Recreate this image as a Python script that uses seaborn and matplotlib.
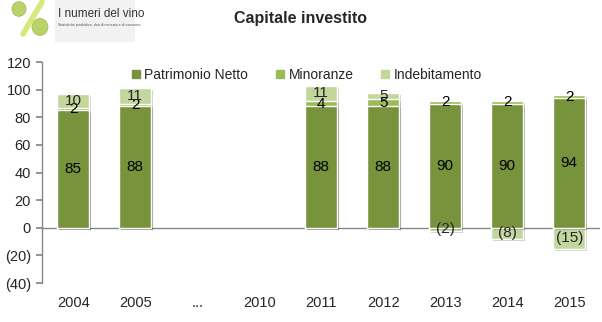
import numpy as np
import pandas as pd
import matplotlib
matplotlib.use("Agg")
import matplotlib.pyplot as plt
import matplotlib.patches as mpatches
import matplotlib.patheffects as pe
import seaborn as sns

years = ["2004", "2005", "...", "2010", "2011", "2012", "2013", "2014", "2015"]
patrimonio = [85, 88, np.nan, np.nan, 88, 88, 90, 90, 94]
minoranze = [2, 2, np.nan, np.nan, 4, 5, 2, 2, 2]
indebitamento = [10, 11, np.nan, np.nan, 11, 5, -2, -8, -15]
series_names = ["Patrimonio Netto", "Minoranze", "Indebitamento"]
colors = ["#77933C", "#9BBB59", "#C3D69B"]
yticks = [-40, -20, 0, 20, 40, 60, 80, 100, 120]

sns.set_theme(style="white")
plt.rcParams["font.family"] = ["Liberation Sans", "DejaVu Sans"]

fig = plt.figure(figsize=(6.02, 3.22), dpi=100)
ax = fig.add_axes([0.07, 0.121, 0.927, 0.686])

pn = np.array(patrimonio, dtype=float)
mi = np.array(minoranze, dtype=float)
ind = np.array(indebitamento, dtype=float)
cum_min = pn + mi
ind_height = np.where(ind > 0, cum_min + ind, ind)

df = pd.DataFrame({"year": years, "pn": pn, "cum_min": cum_min, "ind": ind_height})

shadow = [pe.SimplePatchShadow(offset=(1.5, -1.5), alpha=0.25), pe.Normal()]
for col, c in zip(["ind", "cum_min", "pn"], [colors[2], colors[1], colors[0]]):
    sns.barplot(data=df, x="year", y=col, order=years, color=c, width=0.52,
                edgecolor="white", linewidth=1.0, saturation=1, ax=ax)
for p in ax.patches:
    p.set_path_effects(shadow)

ax.axhline(0, color="#868686", lw=1, zorder=0.5)

def fmt(v):
    v = int(round(v))
    return f"({abs(v)})" if v < 0 else f"{v}"

fs = 11
for i in range(len(years)):
    if np.isnan(pn[i]):
        continue
    ax.text(i, pn[i] / 2, fmt(pn[i]), ha="center", va="center", fontsize=fs, color="black")
    ax.text(i, pn[i] + mi[i] / 2, fmt(mi[i]), ha="center", va="center", fontsize=fs, color="black")
    if ind[i] > 0:
        ax.text(i, cum_min[i] + ind[i] / 2, fmt(ind[i]), ha="center", va="center", fontsize=fs)
    else:
        ax.text(i, ind[i] / 2, fmt(ind[i]), ha="center", va="center", fontsize=fs)

ax.set_ylim(-40, 120)
ax.set_xlim(-0.5, len(years) - 0.5)
ax.set_yticks(yticks)
ax.set_yticklabels([fmt(t) for t in yticks], fontsize=10.5)
ax.tick_params(axis="y", which="both", left=True, length=4, color="#868686", pad=4)
ax.tick_params(axis="x", length=0, labelsize=10.5, pad=9)
ax.set_xlabel("")
ax.set_ylabel("")
for s in ["top", "right", "bottom"]:
    ax.spines[s].set_visible(False)
ax.spines["left"].set_color("#868686")
ax.spines["left"].set_linewidth(1)

handles = [mpatches.Patch(color=c, label=n) for c, n in zip(colors, series_names)]
fig.legend(handles=handles, loc="center", bbox_to_anchor=(0.51, 1 - 75 / 322), ncol=3,
           frameon=False, fontsize=10, handlelength=0.55, handleheight=0.55,
           handletextpad=0.35, columnspacing=2.0)

fig.text(0.5, 1 - 18 / 322, "Capitale investito", ha="center", va="center",
         fontsize=11.5, fontweight="bold")

# logo
logo_bg = mpatches.Rectangle((55 / 602, 1 - 42 / 322), 80 / 602, 42 / 322, transform=fig.transFigure,
                             facecolor="#f2f2f2", edgecolor="none")
fig.add_artist(logo_bg)
fig.add_artist(plt.Line2D([42 / 602, 23 / 602], [1 - 2 / 322, 1 - 34 / 322], transform=fig.transFigure,
                          color="#d8e87a", lw=4, solid_capstyle="round"))
for cx, cy, r in [(19, 9, 7), (40, 27, 8)]:
    fig.add_artist(mpatches.Ellipse((cx / 602, 1 - cy / 322), 2 * r / 602, 2 * r * 1.05 / 322,
                                    transform=fig.transFigure, facecolor="#b9d36a", edgecolor="#9cb94a", lw=0.5))
fig.text(58 / 602, 1 - 14 / 322, "I numeri del vino", fontsize=8.5, color="#333333", va="center")
fig.text(58 / 602, 1 - 25 / 322, "Statistiche produttive, dati di mercato e di consumo.", fontsize=2.6,
         color="#555555", va="center")

fig.savefig("out.png", dpi=100)
